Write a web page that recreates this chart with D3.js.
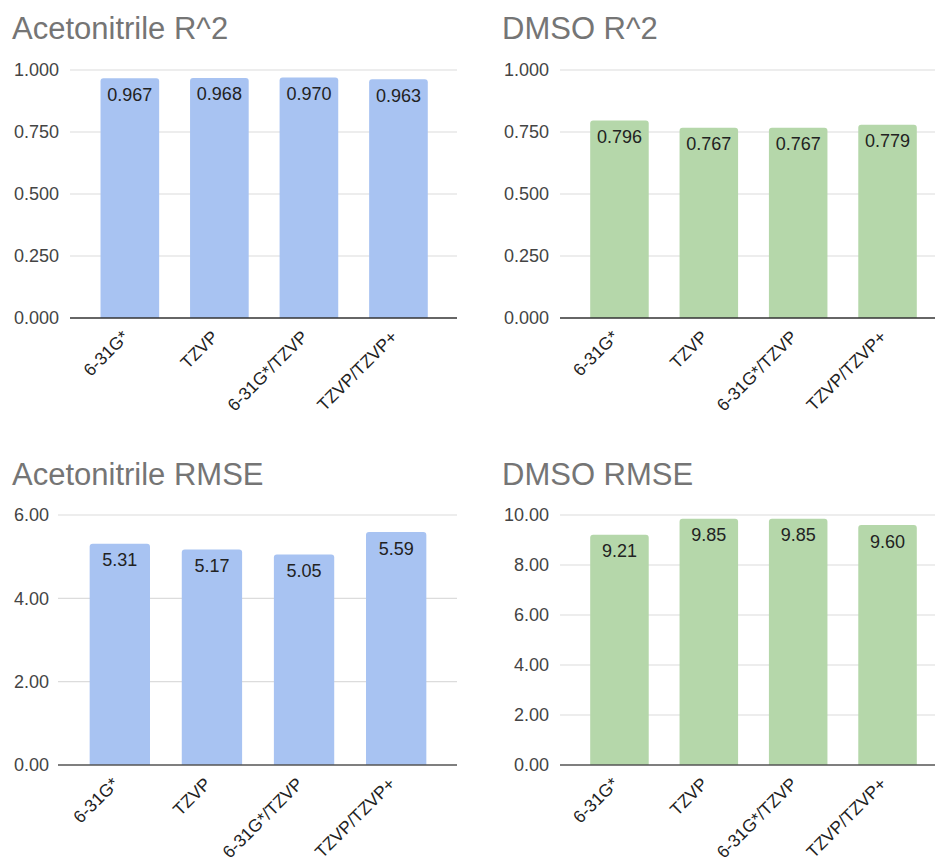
<!DOCTYPE html>
<html>
<head>
<meta charset="utf-8">
<script src="https://cdn.jsdelivr.net/npm/d3@7"></script>
<style>
  html, body { margin: 0; padding: 0; background: #fff; }
  svg { display: block; font-family: "Liberation Sans", Arial, sans-serif; }
</style>
</head>
<body>
<svg id="chart" width="935" height="864"></svg>
<script>
// Basis sets compared in each panel
const basisSets = ["6-31G*", "TZVP", "6-31G*/TZVP", "TZVP/TZVP+"];

// Coefficient of determination
const acetonitrileR2 = [0.967, 0.968, 0.970, 0.963];
const dmsoR2 = [0.796, 0.767, 0.767, 0.779];

// Root mean square error
const acetonitrileRMSE = [5.31, 5.17, 5.05, 5.59];
const dmsoRMSE = [9.21, 9.85, 9.85, 9.60];

// Y-axis ticks per panel
const r2Ticks = [0, 0.25, 0.5, 0.75, 1.0];
const acetonitrileRmseTicks = [0, 2, 4, 6];
const dmsoRmseTicks = [0, 2, 4, 6, 8, 10];

const BLUE = "#a8c3f2";
const GREEN = "#b5d7aa";

const panels = [
  { title: "Acetonitrile R^2", values: acetonitrileR2, ticks: r2Ticks, max: 1.0, fmt: d3.format(".3f"),
    color: BLUE, titleX: 12, titleY: 39, labelX: 59, gridX0: 70, gridX1: 457, bandX0: 85.3, bandX1: 443,
    yTop: 70, yBottom: 318, baseColor: "#333" },
  { title: "DMSO R^2", values: dmsoR2, ticks: r2Ticks, max: 1.0, fmt: d3.format(".3f"),
    color: GREEN, titleX: 502, titleY: 39, labelX: 549, gridX0: 560, gridX1: 935, bandX0: 575, bandX1: 932,
    yTop: 70, yBottom: 318, baseColor: "#333" },
  { title: "Acetonitrile RMSE", values: acetonitrileRMSE, ticks: acetonitrileRmseTicks, max: 6, fmt: d3.format(".2f"),
    color: BLUE, titleX: 12, titleY: 485, labelX: 49, gridX0: 58, gridX1: 457, bandX0: 74, bandX1: 442,
    yTop: 515, yBottom: 765, baseColor: "#555" },
  { title: "DMSO RMSE", values: dmsoRMSE, ticks: dmsoRmseTicks, max: 10, fmt: d3.format(".2f"),
    color: GREEN, titleX: 502, titleY: 485, labelX: 549, gridX0: 560, gridX1: 935, bandX0: 575, bandX1: 932,
    yTop: 515, yBottom: 765, baseColor: "#555" }
];

const svg = d3.select("#chart");

// Bar with slightly rounded top corners
function barPath(x, y, w, h, r) {
  r = Math.min(r, h, w / 2);
  return `M${x},${y + h}V${y + r}Q${x},${y} ${x + r},${y}H${x + w - r}Q${x + w},${y} ${x + w},${y + r}V${y + h}Z`;
}

panels.forEach(p => {
  const g = svg.append("g");

  const x = d3.scaleBand().domain(basisSets).range([p.bandX0, p.bandX1]).paddingInner(0.345).paddingOuter(0.17);
  const y = d3.scaleLinear().domain([0, p.max]).range([p.yBottom, p.yTop]);

  // Title
  g.append("text")
    .attr("x", p.titleX).attr("y", p.titleY)
    .attr("font-size", 31).attr("fill", "#757575")
    .text(p.title);

  // Gridlines
  g.selectAll("line.grid").data(p.ticks.filter(t => t !== 0)).join("line")
    .attr("class", "grid")
    .attr("x1", p.gridX0).attr("x2", p.gridX1)
    .attr("y1", d => y(d)).attr("y2", d => y(d))
    .attr("stroke", "#dcdcdc").attr("stroke-width", 1.2);

  // Y tick labels
  g.selectAll("text.ytick").data(p.ticks).join("text")
    .attr("class", "ytick")
    .attr("x", p.labelX).attr("y", d => y(d))
    .attr("dy", "0.36em")
    .attr("text-anchor", "end")
    .attr("font-size", 18).attr("fill", "#444")
    .text(d => p.fmt(d));

  // Bars
  g.selectAll("path.bar").data(p.values).join("path")
    .attr("class", "bar")
    .attr("d", (d, i) => barPath(x(basisSets[i]), y(d), x.bandwidth(), y(0) - y(d), 3))
    .attr("fill", p.color);

  // Baseline
  g.append("line")
    .attr("x1", p.gridX0).attr("x2", p.gridX1)
    .attr("y1", y(0)).attr("y2", y(0))
    .attr("stroke", p.baseColor).attr("stroke-width", 1.5);

  // Value labels inside bar tops
  g.selectAll("text.val").data(p.values).join("text")
    .attr("class", "val")
    .attr("x", (d, i) => x(basisSets[i]) + x.bandwidth() / 2)
    .attr("y", d => y(d) + 22.5)
    .attr("text-anchor", "middle")
    .attr("font-size", 18).attr("fill", "#222")
    .text(d => p.fmt(d));

  // Rotated category labels
  g.selectAll("text.cat").data(basisSets).join("text")
    .attr("class", "cat")
    .attr("text-anchor", "end")
    .attr("font-size", 17.5).attr("fill", "#222")
    .attr("transform", d => `translate(${x(d) + x.bandwidth() / 2},${y(0) + 20}) rotate(-45)`)
    .text(d => d);
});
</script>
</body>
</html>
